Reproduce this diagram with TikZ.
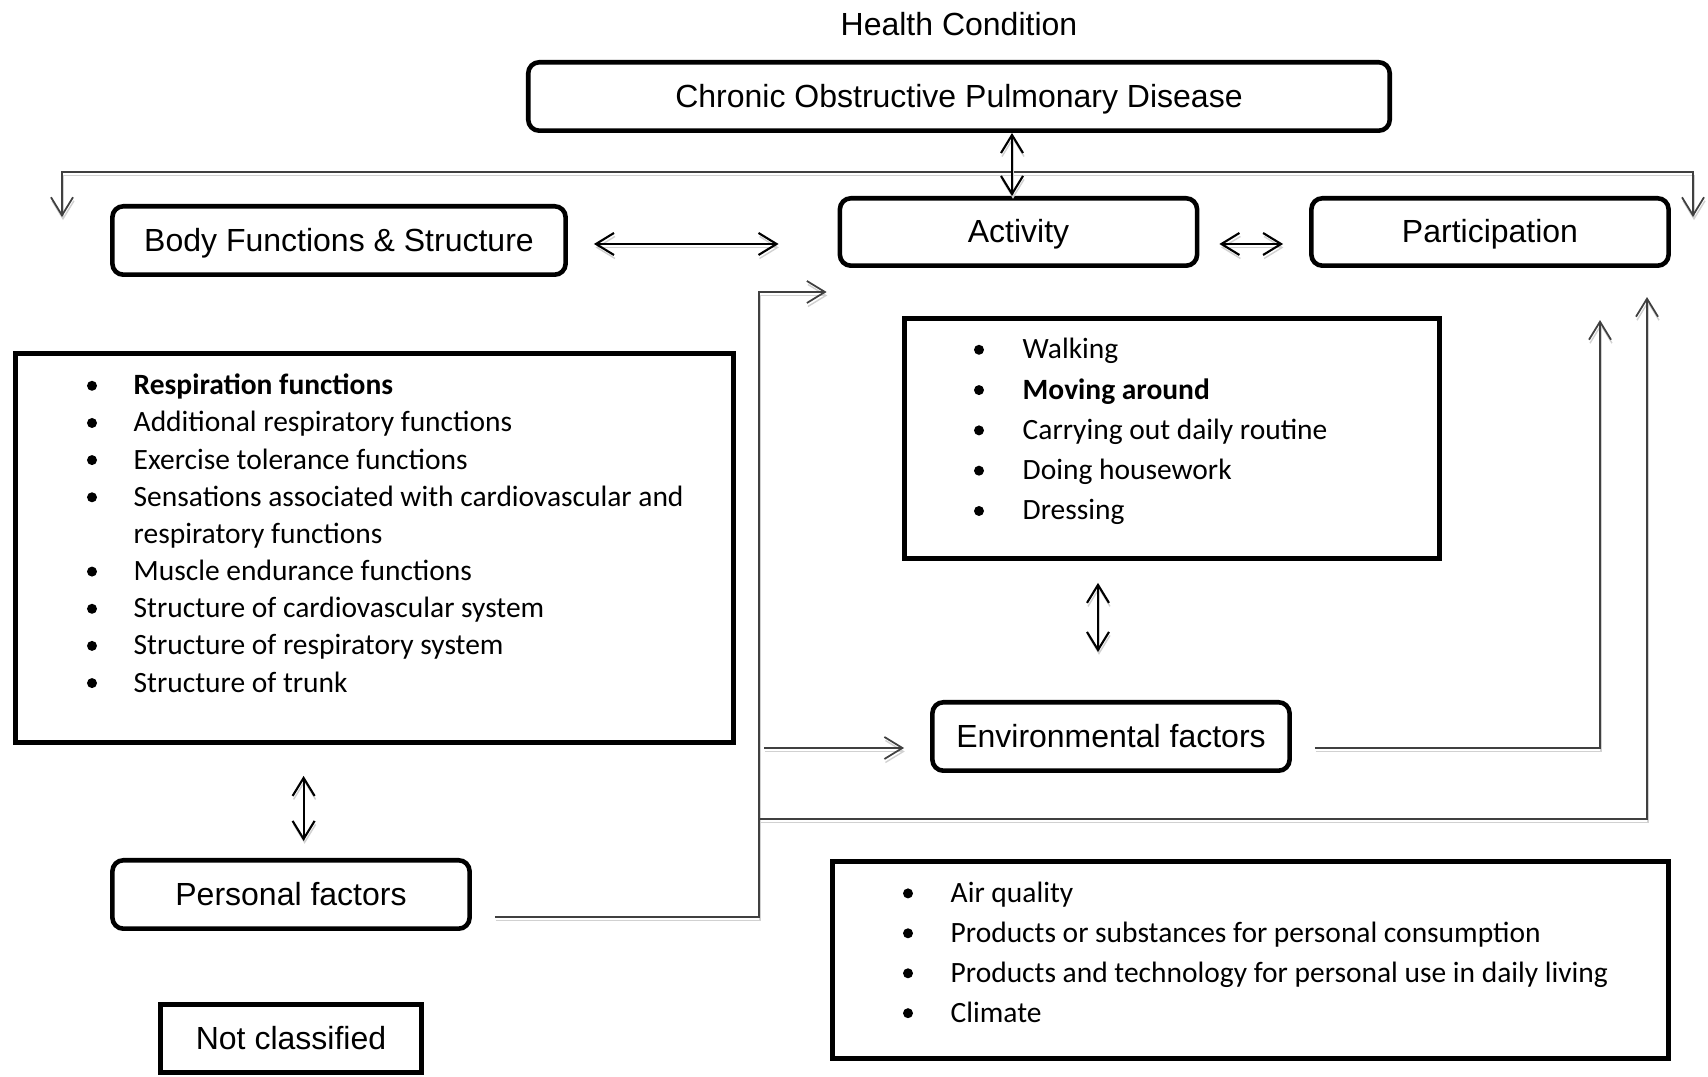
\documentclass[tikz,border=0pt]{standalone}
\usepackage{fontspec}
\setmainfont{Liberation Sans}
\newfontfamily\calibri{Carlito}
\usepackage{tikz}
\usetikzlibrary{arrows.meta}

\begin{document}
\begin{tikzpicture}[x=0.01cm, y=-0.01cm, font=\fontsize{9.1}{11}\selectfont,
  >={Straight Barb[length=1.8mm,width=2.2mm]},
  rbox/.style={draw, line width=1.3pt, rounded corners=1.1mm, inner sep=0pt,
    text height=0.25cm, text depth=0.03cm, minimum width=3.57cm, minimum height=0.684cm},
  sbox/.style={draw, line width=1.3pt, inner sep=0pt, text height=0.25cm, text depth=0.03cm},
  item/.style={anchor=base west, inner sep=0pt, font=\calibri\fontsize{8.38}{10}\selectfont},
  bul/.style={circle, fill, inner sep=0pt, minimum size=0.1cm},
  shade/.style={preaction={draw=black!18, transform canvas={shift={(0.01cm,-0.035cm)}}}},
  dbl/.style={<->, line width=0.6pt, shade},
  link/.style={->, line width=0.5pt, draw=black!75, shade}]

\useasboundingbox (0,0) rectangle (1708,1077);

\node (hc) at (959,24) {Health Condition};
\node[rbox, minimum width=8.61cm] (copd) at (959,96.5) {Chronic Obstructive Pulmonary Disease};
\node[rbox, minimum width=4.53cm] (body) at (339,240.5) {Body Functions \& Structure};
\node[rbox, minimum height=0.674cm] (act) at (1018.5,232) {Activity};
\node[rbox, minimum height=0.674cm] (part) at (1490,232) {Participation};
\node[rbox] (env) at (1111,736.5) {Environmental factors};
\node[rbox] (pers) at (291,894.5) {Personal factors};
\node[sbox, minimum width=2.61cm, minimum height=0.684cm] (nc) at (291,1038.5) {Not classified};

\node[sbox, minimum width=7.18cm, minimum height=3.89cm] (bfslist) at (374.5,548) {};
\node[sbox, minimum width=5.35cm, minimum height=2.40cm] (actlist) at (1172,438.5) {};
\node[sbox, minimum width=8.36cm, minimum height=1.97cm] (envlist) at (1250.5,960) {};

\foreach \y/\t [count=\i] in {394.8/{\textbf{Respiration functions}},
    432/{Additional respiratory functions}, 469.1/{Exercise tolerance functions},
    506.3/{Sensations associated with cardiovascular and}, 580.6/{Muscle endurance functions},
    617.8/{Structure of cardiovascular system}, 654.9/{Structure of respiratory system},
    692.1/{Structure of trunk}}
  {\node[bul] (bfs-b\i) at (92,\y-9) {};
   \node[item] (bfs-t\i) at (133,\y) {\t};}
\node[item] (bfs-wrap) at (133,543.4) {respiratory functions};

\foreach \y/\t [count=\i] in {358.8/Walking, 399.1/{\textbf{Moving around}},
    439.4/{Carrying out daily routine}, 479.7/{Doing housework}, 520/Dressing}
  {\node[bul] (act-b\i) at (979,\y-9) {};
   \node[item] (act-t\i) at (1022,\y) {\t};}

\foreach \y/\t [count=\i] in {902.4/{Air quality},
    942.3/{Products or substances for personal consumption},
    982.3/{Products and technology for personal use in daily living}, 1022.2/Climate}
  {\node[bul] (env-b\i) at (908,\y-9) {};
   \node[item] (env-t\i) at (950,\y) {\t};}

\coordinate (tl) at (62,217);
\coordinate (top) at (959,172);
\coordinate (tr) at (1693,217);
\coordinate (bay) at (0,244);
\coordinate (trunk) at (759,292);
\coordinate (envin) at (759,748);
\coordinate (lowj) at (759,819);
\coordinate (ex) at (1600,0);
\coordinate (rx) at (1647,0);
\coordinate (ax) at (1098,0);
\coordinate (cx) at (1012,0);
\coordinate (px) at (303.6,0);

\draw[link, <->] (tl) |- (top) -| (tr);
\draw[dbl] (act.north -| cx) -- (copd.south -| cx);
\draw[dbl, shorten <=0.26cm, shorten >=0.59cm] (body.east |- bay) -- (act.west |- bay);
\draw[dbl, shorten <=0.2cm, shorten >=0.26cm] (act.east |- bay) -- (part.west |- bay);
\draw[dbl, shorten <=0.22cm, shorten >=0.48cm] (actlist.south -| ax) -- (env.north -| ax);
\draw[dbl, shorten <=0.31cm, shorten >=0.17cm] (bfslist.south -| px) -- (pers.north -| px);

\draw[link, shorten <=0.23cm, shorten >=0.11cm] ([yshift=-0.225cm]pers.east) -| (trunk) -- (trunk -| act.west);
\draw[link, shorten <=0.05cm, shorten >=0.26cm] (envin) -- (envin -| env.west);
\draw[link, shorten >=0.29cm] (lowj) -| (rx |- part.south);
\draw[link, shorten <=0.23cm, shorten >=0.52cm] ([yshift=-0.115cm]env.east) -| (ex |- part.south);

\end{tikzpicture}
\end{document}
